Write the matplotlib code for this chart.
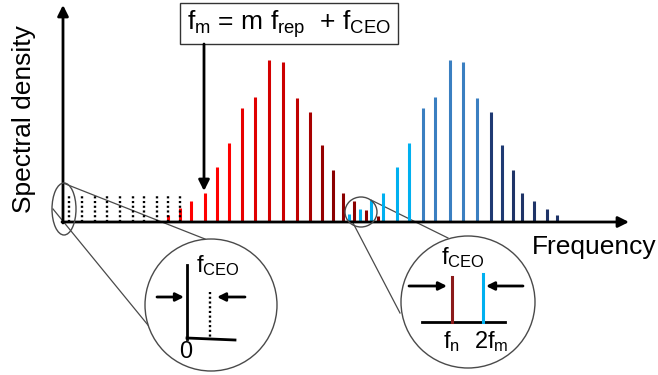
import numpy as np
import matplotlib
matplotlib.use('Agg')
import matplotlib.pyplot as plt
from matplotlib.patches import Ellipse, Rectangle

plt.rcParams['font.family'] = ['Liberation Sans', 'DejaVu Sans']
plt.rcParams['mathtext.default'] = 'regular'

# comb lines (position along frequency axis, height above baseline)
red_freq = [168, 180, 191, 205, 217, 229, 242, 255, 269, 283, 297, 310, 322, 333, 343, 354, 366, 378]
red_amp = [7, 14, 21, 29, 55, 79, 114, 125, 162, 160, 124, 110, 77, 52, 29, 21, 12, 6]
blue_freq = [349, 360, 371, 383, 397, 409, 423, 435, 450, 463, 477, 491, 502, 513, 522, 534, 547, 557]
blue_amp = [8, 13, 22, 29, 55, 79, 114, 125, 162, 160, 124, 110, 77, 52, 29, 21, 13, 7]
dotted_freq = [69, 82, 95, 107, 120, 133, 144, 157, 168, 180]
dotted_amp = 27

red_colors = ['#FF0000'] * 6 + ['#E80000', '#E00000', '#D40000', '#CC0000', '#C00000',
                                '#A80000', '#960000', '#8B0000', '#8B0000', '#8B0000',
                                '#8B0000', '#8B0000']
blue_colors = ['#00B0F0'] * 6 + ['#3A7FC1'] * 5 + ['#1F3A73'] * 2 + ['#1F3468'] * 5

base = 222
dots = (0, (0.9, 1.1))

fig = plt.figure(figsize=(6.58, 3.75), dpi=100)
ax = fig.add_axes([0, 0, 1, 1])
ax.set_xlim(0, 658)
ax.set_ylim(375, 0)
ax.axis('off')

# spectrum
ax.vlines(red_freq, base, base - np.array(red_amp), colors=red_colors, lw=2.2, zorder=2)
ax.vlines(blue_freq, base, base - np.array(blue_amp), colors=blue_colors, lw=2.2, zorder=2)
ax.vlines(dotted_freq, base, base - dotted_amp, colors='black', lw=1.7,
          linestyles=dots, zorder=2.5)

# axes with arrows
arr = dict(arrowstyle='-|>', lw=2, color='black', mutation_scale=16, shrinkA=0, shrinkB=0)
ax.annotate('', xy=(63, 5), xytext=(63, base + 1), arrowprops=arr, zorder=3)
ax.annotate('', xy=(629, base), xytext=(62, base), arrowprops=arr, zorder=3)

ax.text(24, 119, 'Spectral density', rotation=90, fontsize=19, ha='center', va='center')
ax.text(594, 247, 'Frequency', fontsize=19, ha='center', va='center')

# formula box + arrow
ax.add_patch(Rectangle((180, 3), 218, 41, fill=False, edgecolor='#333333', lw=1, zorder=3))
ax.text(289, 24, '$f_m$ = m $f_{rep}$  + $f_{CEO}$', fontsize=19, ha='center', va='center')
ax.annotate('', xy=(204, 191), xytext=(204, 44),
            arrowprops=dict(arrowstyle='-|>', lw=2, color='black', mutation_scale=16,
                            shrinkA=0, shrinkB=0), zorder=3)

grey = '#4a4a4a'
# zoom ellipses and connectors
ax.add_patch(Ellipse((64, 209), 24, 52, fill=False, edgecolor=grey, lw=1, zorder=4))
ax.add_patch(Ellipse((361, 212), 32, 30, fill=False, edgecolor=grey, lw=1, zorder=4))
ax.plot([63, 205], [183, 239], color=grey, lw=0.9, zorder=1)
ax.plot([53, 152], [209, 330], color=grey, lw=0.9, zorder=1)
ax.plot([352, 400], [221, 313], color=grey, lw=0.9, zorder=1)
ax.plot([371, 448], [200, 238], color=grey, lw=0.9, zorder=1)

ax.add_patch(Ellipse((211, 305), 132, 132, facecolor='white', edgecolor=grey, lw=1, zorder=5))
ax.add_patch(Ellipse((468, 302), 134, 132, facecolor='white', edgecolor=grey, lw=1, zorder=5))

small = dict(arrowstyle='-|>', lw=2, color='black', mutation_scale=12, shrinkA=0, shrinkB=0)

# left inset: origin and f_CEO offset
ax.plot([187, 187], [265, 339], color='black', lw=2, zorder=6)
ax.plot([187, 235], [338, 340], color='black', lw=2, zorder=6)
ax.plot([210, 210], [292, 338], color='black', lw=1.7, ls=dots, zorder=6)
ax.annotate('', xy=(184, 297), xytext=(157, 297), arrowprops=small, zorder=6)
ax.annotate('', xy=(217, 297), xytext=(245, 297), arrowprops=small, zorder=6)
ax.text(196, 266, '$f_{CEO}$', fontsize=17, ha='left', va='center', zorder=6)
ax.text(186, 352, '0', fontsize=17, ha='center', va='center', zorder=6)

# right inset: f-2f beat
ax.plot([422, 505], [322, 322], color='black', lw=2, zorder=6)
ax.plot([452, 452], [277, 322], color='#8B1A1A', lw=2.2, zorder=6)
ax.plot([483, 483], [274, 322], color='#00B0F0', lw=2.2, zorder=6)
ax.annotate('', xy=(447, 286), xytext=(409, 286), arrowprops=small, zorder=6)
ax.annotate('', xy=(486, 286), xytext=(523, 286), arrowprops=small, zorder=6)
ax.text(463, 258, '$f_{CEO}$', fontsize=17, ha='center', va='center', zorder=6)
ax.text(451, 342, '$f_n$', fontsize=17, ha='center', va='center', zorder=6)
ax.text(491, 342, '2$f_m$', fontsize=17, ha='center', va='center', zorder=6)

fig.savefig('out.png', dpi=100)
